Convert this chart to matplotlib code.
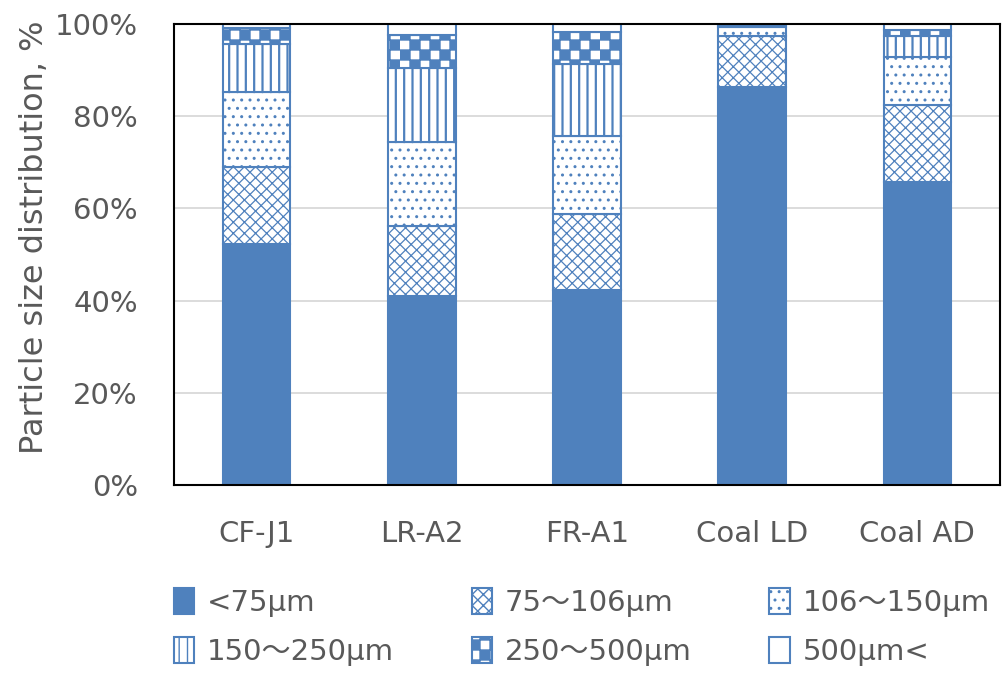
import matplotlib
matplotlib.use('Agg')
import matplotlib.pyplot as plt
import matplotlib.hatch as mhatch
from matplotlib.path import Path
from matplotlib.ticker import FuncFormatter

# Datos (en %)
categorias = ['CF-J1', 'LR-A2', 'FR-A1', 'Coal LD', 'Coal AD']
menor_75 = [52.2, 41.0, 42.3, 86.4, 65.8]
r75_106 = [16.7, 15.2, 16.5, 11.1, 16.6]
r106_150 = [16.4, 18.3, 16.8, 1.8, 10.5]
r150_250 = [10.3, 15.9, 15.7, 0.4, 4.5]
r250_500 = [3.6, 7.2, 6.9, 0.2, 1.4]
mayor_500 = [0.8, 2.4, 1.8, 0.1, 1.2]
etiquetas = ['<75μm', '75〜106μm', '106〜150μm', '150〜250μm', '250〜500μm', '500μm<']
yticks = [0, 20, 40, 60, 80, 100]

AZUL = '#4F81BD'
GRIS = '#595959'


# Patrón de tablero de ajedrez (reemplaza al de estrellas '*')
class Tablero(mhatch.HatchPatternBase):
    filled = True

    def __init__(self, hatch, density):
        self.n = int(round(hatch.count('*') * density * 0.8))
        if self.n % 2:
            self.n += 1
        self.num_vertices = 5 * (self.n * self.n // 2) if self.n else 0

    def set_vertices_and_codes(self, vertices, codes):
        n = self.n
        paso = 1.0 / n
        k = 0
        for i in range(n):
            for j in range(n):
                if (i + j) % 2 == 0:
                    x0, y0 = i * paso, j * paso
                    vertices[k:k + 5] = [[x0, y0], [x0 + paso, y0], [x0 + paso, y0 + paso],
                                         [x0, y0 + paso], [x0, y0]]
                    codes[k] = Path.MOVETO
                    codes[k + 1:k + 4] = Path.LINETO
                    codes[k + 4] = Path.CLOSEPOLY
                    k += 5


mhatch._hatch_types = [t for t in mhatch._hatch_types if t is not mhatch.Stars] + [Tablero]

plt.rcParams['font.family'] = ['DejaVu Sans', 'Noto Sans CJK JP']
plt.rcParams['hatch.color'] = AZUL

fig = plt.figure(figsize=(10.06, 6.73), dpi=100)
ax = fig.add_axes([174 / 1006, 1 - 485 / 673, 826 / 1006, 461 / 673])

series = [menor_75, r75_106, r106_150, r150_250, r250_500, mayor_500]
tramas = [None, 'xxx', '..', '||', '**', None]
grosores = [1.0, 0.9, 1.0, 1.6, 1.0, 1.0]
x = list(range(len(categorias)))
base = [0.0] * len(categorias)
handles = []
for vals, trama, lw, lab in zip(series, tramas, grosores, etiquetas):
    plt.rcParams['hatch.linewidth'] = lw
    relleno = AZUL if lab == '<75μm' else 'white'
    bars = ax.bar(x, vals, 0.41, bottom=base, color=relleno, edgecolor=AZUL,
                  linewidth=1.5, hatch=trama, label=lab, zorder=3)
    for b in bars:
        if hasattr(b, 'set_hatch_linewidth'):
            b.set_hatch_linewidth(lw)
    handles.append(bars)
    base = [b0 + v for b0, v in zip(base, vals)]

ax.set_xlim(-0.5, len(categorias) - 0.5)
ax.set_ylim(0, 100)
ax.set_yticks(yticks)
ax.yaxis.set_major_formatter(FuncFormatter(lambda v, p: f'{v:.0f}%'))
ax.set_xticks(x)
ax.set_xticklabels(categorias)
ax.tick_params(axis='y', length=0, pad=26, labelsize=21, labelcolor=GRIS)
ax.tick_params(axis='x', length=0, pad=25, labelsize=21, labelcolor=GRIS)
ax.grid(axis='y', color='#D9D9D9', linewidth=1.3, zorder=0)
ax.set_axisbelow(True)
for s in ax.spines.values():
    s.set_color('black')
    s.set_linewidth(1.5)
    s.set_zorder(4)

ax.set_ylabel('Particle size distribution, %', fontsize=23, color=GRIS)
ax.yaxis.set_label_coords(-0.150, 0.538)

# Leyenda: orden por filas
orden = [0, 3, 1, 4, 2, 5]
fig.legend([handles[i] for i in orden], [etiquetas[i] for i in orden],
           loc='upper left', bbox_to_anchor=(159 / 1006, 1 - 573 / 673), ncol=3,
           frameon=False, prop={'size': 21}, labelcolor=GRIS, borderpad=0,
           handlelength=0.7, handleheight=1.0, handletextpad=0.45,
           columnspacing=2.65, labelspacing=0.7)

plt.savefig('out.png', dpi=100)
plt.close()
